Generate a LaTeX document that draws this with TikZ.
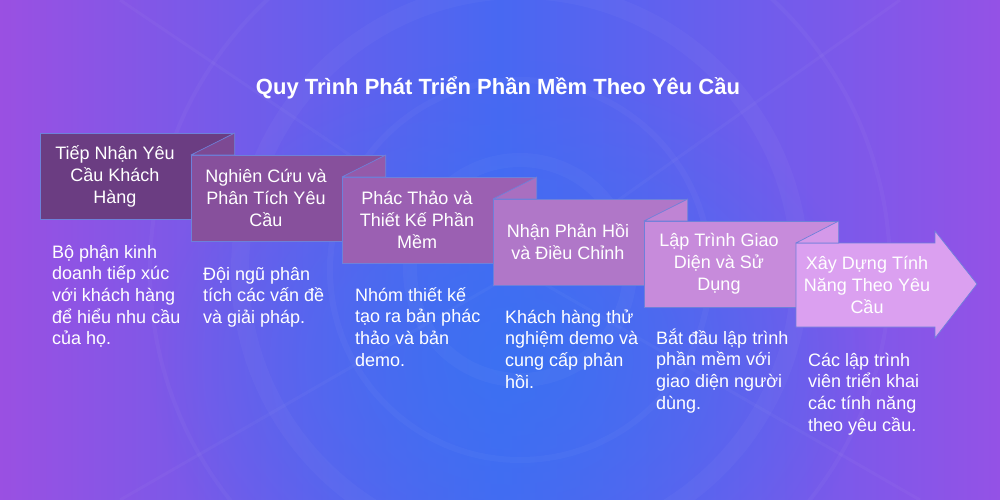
\documentclass[tikz,border=0pt]{standalone}
\usepackage{fontspec}
\setmainfont{Liberation Sans}
\usetikzlibrary{fadings}
\definecolor{bgl}{HTML}{9A50E2}
\definecolor{bgm}{HTML}{4868F2}
\definecolor{bgr}{HTML}{9452E6}
\definecolor{bgc}{HTML}{3A72F2}
\definecolor{edgec}{HTML}{6E80DA}
\definecolor{c1}{HTML}{6B3D82}
\definecolor{c2}{HTML}{87509C}
\definecolor{c3}{HTML}{9B60B2}
\definecolor{c4}{HTML}{B077C8}
\definecolor{c5}{HTML}{C78BDB}
\definecolor{c6}{HTML}{DBA0F0}
\tikzfading[name=glowfade, inner color=transparent!15, outer color=transparent!100]
\newcommand\mydesc[1]{\vtop{\baselineskip=21.7pt\lineskiplimit=-10pt\lineskip=0pt #1}}
\tikzset{
  boxstyle/.style={draw=edgec, line width=0.7pt, fill=#1, minimum width=194pt, minimum height=86pt,
    inner sep=0pt, anchor=north west},
  titlestyle/.style={align=center, text=white, inner sep=0pt, font=\fontsize{18}{22}\selectfont},
  flapstyle/.style={fill=#1, draw=edgec, line width=0.7pt, line join=round},
  descstyle/.style={anchor=base west, inner sep=0pt, text=white, font=\fontsize{18}{21.7}\selectfont},
  ringstyle/.style={draw=white, draw opacity=0.03}
}
\begin{document}
\begin{tikzpicture}[x=1pt,y=-1pt]
\useasboundingbox (0,0) rectangle (1000,500);
% background
\shade[left color=bgl, right color=bgr, middle color=bgm] (0,0) rectangle (1000,500);
\begin{scope}
\clip (0,0) rectangle (1000,500);
\fill[bgc, path fading=glowfade] (510,360) ellipse [x radius=360pt, y radius=300pt];
\draw[ringstyle, line width=14pt] (520,270) circle [radius=110pt];
\draw[ringstyle, line width=6pt] (520,270) circle [radius=190pt];
\draw[ringstyle, line width=18pt] (520,270) circle [radius=280pt];
\draw[ringstyle, line width=4pt] (520,270) circle [radius=370pt];
\draw[ringstyle, line width=3pt] (520,270) -- (120,0);
\draw[ringstyle, line width=3pt] (520,270) -- (900,0);
\draw[ringstyle, line width=3pt] (520,270) -- (120,500);
\draw[ringstyle, line width=3pt] (520,270) -- (920,500);
\end{scope}
% title
\node[text=white, font=\fontsize{22}{26}\selectfont\bfseries, inner sep=0pt, anchor=base] (title) at (498,95) {Quy Trình Phát Triển Phần Mềm Theo Yêu Cầu};
% boxes
\node[boxstyle=c1] (b1) at (40,133) {};
\node[boxstyle=c2] (b2) at (191,155) {};
\node[boxstyle=c3] (b3) at (342,177) {};
\node[boxstyle=c4] (b4) at (493,199) {};
\node[boxstyle=c5] (b5) at (644,221) {};
\path[fill=c6, draw=edgec, line width=0.7pt, line join=miter]
  (796,243) -- (935,243) -- (935,231) -- (977,284) -- (935,338) -- (935,327) -- (796,327) -- cycle;
% flaps
\fill[flapstyle=c1!35!c2] (b2.north west) -- (b1.north east) -- (b1.north east |- b2.north) -- cycle;
\fill[flapstyle=c2!35!c3] (b3.north west) -- (b2.north east) -- (b2.north east |- b3.north) -- cycle;
\fill[flapstyle=c3!35!c4] (b4.north west) -- (b3.north east) -- (b3.north east |- b4.north) -- cycle;
\fill[flapstyle=c4!35!c5] (b5.north west) -- (b4.north east) -- (b4.north east |- b5.north) -- cycle;
\coordinate (b6nw) at (796,243);
\fill[flapstyle=c5!35!c6] (b6nw) -- (b5.north east) -- (b5.north east |- b6nw) -- cycle;
% box titles
\node[titlestyle] (t1) at (115,176) {Tiếp Nhận Yêu\\Cầu Khách\\Hàng};
\node[titlestyle] (t2) at (266,198) {Nghiên Cứu và\\Phân Tích Yêu\\Cầu};
\node[titlestyle] (t3) at (417,220) {Phác Thảo và\\Thiết Kế Phần\\Mềm};
\node[titlestyle] (t4) at (568,242) {Nhận Phản Hồi\\và Điều Chỉnh};
\node[titlestyle] (t5) at (719,264) {Lập Trình Giao\\Diện và Sử\\Dụng};
\node[titlestyle] (b6) at (867,285) {Xây Dựng Tính\\Năng Theo Yêu\\Cầu};
% descriptions
\node[descstyle] (d1) at (52,258) {\mydesc{\hbox{Bộ phận kinh}\hbox{doanh tiếp xúc}\hbox{với khách hàng}\hbox{để hiểu nhu cầu}\hbox{của họ.}}};
\node[descstyle] (d2) at (203,280) {\mydesc{\hbox{Đội ngũ phân}\hbox{tích các vấn đề}\hbox{và giải pháp.}}};
\node[descstyle] (d3) at (355,301) {\mydesc{\hbox{Nhóm thiết kế}\hbox{tạo ra bản phác}\hbox{thảo và bản}\hbox{demo.}}};
\node[descstyle] (d4) at (505,323) {\mydesc{\hbox{Khách hàng thử}\hbox{nghiệm demo và}\hbox{cung cấp phản}\hbox{hồi.}}};
\node[descstyle] (d5) at (656,344) {\mydesc{\hbox{Bắt đầu lập trình}\hbox{phần mềm với}\hbox{giao diện người}\hbox{dùng.}}};
\node[descstyle] (d6) at (808,366) {\mydesc{\hbox{Các lập trình}\hbox{viên triển khai}\hbox{các tính năng}\hbox{theo yêu cầu.}}};
\end{tikzpicture}
\end{document}
